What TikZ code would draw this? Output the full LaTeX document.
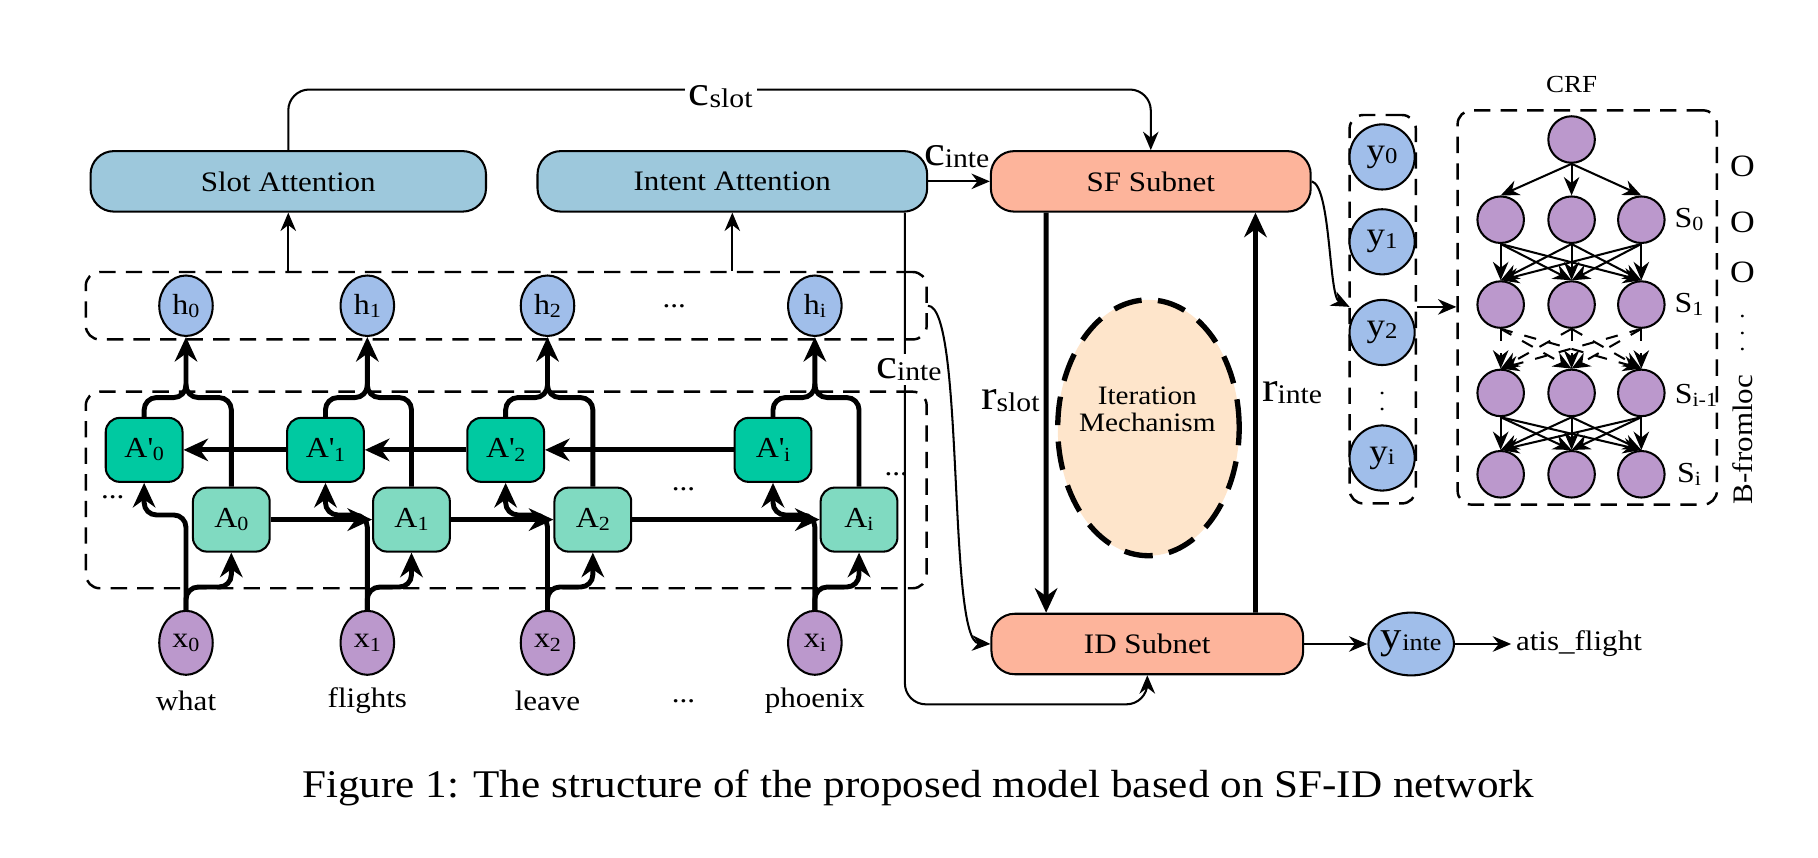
\documentclass[tikz,border=0pt]{standalone}
\usepackage{fontspec}
\setmainfont{Liberation Serif}[FakeStretch=1.1]
\usetikzlibrary{shapes.geometric,arrows.meta}

\definecolor{attblue}{RGB}{157,200,220}
\definecolor{subred}{RGB}{253,180,155}
\definecolor{hblue}{RGB}{160,190,234}
\definecolor{xpurple}{RGB}{187,152,204}
\definecolor{bwdgreen}{RGB}{0,201,161}
\definecolor{fwdgreen}{RGB}{128,218,193}
\definecolor{iterpeach}{RGB}{254,229,203}

\newcommand{\fsz}[1]{\fontsize{#1}{#1}\selectfont}
\newcommand{\vsub}[2]{{\fsz{10.4}#1}\raisebox{-0.5pt}{\fsz{6.6}#2}}
\newcommand{\nsub}[2]{{\fsz{7.1}#1}\raisebox{-0.8pt}{\fsz{4.9}#2}}
\newcommand{\psub}[2]{{\fsz{7.1}#1\textquotesingle}\raisebox{-0.8pt}{\fsz{4.9}#2}}
\newcommand{\ysub}[2]{{\fsz{8.2}#1}\raisebox{-0.6pt}{\fsz{5.5}#2}}

\tikzset{
  att/.style={draw, line width=0.5pt, fill=attblue, rounded corners=0.2cm, minimum height=0.52cm, font=\fsz{6.9}},
  subnet/.style={att, fill=subred},
  hnode/.style={ellipse, draw, line width=0.5pt, fill=hblue, inner sep=0pt, minimum width=0.46cm, minimum height=0.52cm},
  xnode/.style={hnode, fill=xpurple, minimum height=0.55cm},
  bwd/.style={draw, line width=0.5pt, fill=bwdgreen, rounded corners=0.12cm, minimum width=0.66cm, minimum height=0.55cm, inner sep=0pt},
  fwd/.style={bwd, fill=fwdgreen},
  ynode/.style={circle, draw, line width=0.5pt, fill=hblue, minimum size=0.56cm, inner sep=0pt},
  crfnode/.style={circle, draw, line width=0.5pt, fill=xpurple, minimum size=0.40cm, inner sep=0pt},
  iter/.style={ellipse, draw, line width=1.3pt, dash pattern=on 7pt off 4pt, fill=iterpeach, minimum width=1.56cm, minimum height=2.2cm},
  dashbox/.style={draw, line width=0.6pt, dash pattern=on 4pt off 2.5pt, rounded corners=0.12cm, inner sep=0pt},
  con/.style={line width=0.5pt},
  lstm/.style={line width=1.2pt, >={Stealth[length=6pt,width=5.5pt]}},
  lab/.style={inner sep=1pt},
  word/.style={font=\fsz{6.9}},
  vdot/.style={font=\fsz{5.5}, inner sep=0pt},
}

\begin{document}
\begin{tikzpicture}[x=0.01cm,y=-0.01cm,>={Stealth[length=4.5pt,width=3.8pt]}]
\useasboundingbox (0,0) rectangle (1564,738);

% dashed groups
\node[dashbox, minimum width=7.23cm, minimum height=0.58cm] (hbox) at (435.5,263) {};
\node[dashbox, minimum width=7.23cm, minimum height=1.69cm] (abox) at (435.5,421.5) {};
\node[dashbox, minimum width=0.57cm, minimum height=3.34cm] (ybox) at (1189.5,266) {};
\node[dashbox, minimum width=2.23cm, minimum height=3.39cm] (crf) at (1365.5,264.5) {};

% attention and subnets
\node[att, minimum width=3.40cm] (slot) at (248,156) {Slot Attention};
\node[att, minimum width=3.35cm] (intent) at (630,156) {Intent Attention};
\node[subnet, minimum width=2.75cm] (sf) at (990,156) {SF Subnet};
\node[subnet, minimum width=2.68cm] (id) at (987,554) {ID Subnet};

% BiLSTM columns
\foreach \k/\ap/\c/\a/\w in {0/124/160/199/what, 1/280/316/354/flights, 2/435/471/510/leave, i/665/701/739/phoenix}{
  \node[xnode] (x\k) at (\c,553) {\nsub{x}{\k}};
  \node[word] (w\k) at (\c,603) {\w};
  \node[hnode] (h\k) at (\c,263) {\nsub{h}{\k}};
  \node[bwd] (Ap\k) at (\ap,387) {\psub{A}{\k}};
  \node[fwd] (A\k) at (\a,447) {\nsub{A}{\k}};
  \draw[lstm,->,rounded corners=3pt] (x\k.north) -- (\c,443) -- (\ap,443) -- (Ap\k.south);
  \draw[lstm,->,rounded corners=3pt] (x\k.north) -- (\c,505) -- (\a,505) -- (A\k.south);
  \draw[lstm,->,rounded corners=3pt] (Ap\k.north) -- (\ap,342) -- (\c,342) -- (h\k.south);
  \draw[lstm,rounded corners=3pt] (A\k.north) -- (\a,342) -- (\c,342) -- (\c,330);
}
\draw[lstm,->] (A0) -- (A1);
\draw[lstm,->] (A1) -- (A2);
\draw[lstm,->] (A2) -- (Ai);
\draw[lstm,->] (Api) -- (Ap2);
\draw[lstm,->] (Ap2) -- (Ap1);
\draw[lstm,->] (Ap1) -- (Ap0);

\node[word] (dotsl) at (97,428) {...};
\node[word] (dotsm) at (588,421) {...};
\node[word] (dotsr) at (771,408) {...};
\node[word] (dotsh) at (580,263) {...};
\node[word] (dotsw) at (588,603) {...};

% h layer to attention
\draw[con,->] (hbox.north -| slot.south) -- (slot.south);
\draw[con,->] (hbox.north -| intent.south) -- (intent.south);

% context vectors
\coordinate (ctop) at (990,77);
\draw[con,->,rounded corners=0.18cm] (slot.north) |- (ctop) -- (sf.north);
\node[lab, fill=white] (cslot) at (620,83) {\vsub{c}{slot}};
\draw[con,->] (intent) -- (sf);
\node[lab] (cinte) at (823,135) {\vsub{c}{inte}};
\draw[con,->,rounded corners=0.18cm] ([xshift=-0.2cm]intent.south east) |- ([yshift=-0.25cm]id.south) -- (id.south);
\node[lab, fill=white] (cinteb) at (782,318) {\vsub{c}{inte}};
\draw[con,->] (hbox.east) .. controls (830,263) and (815,552) .. (id.west);

% iteration mechanism
\node[iter] (iter) at (988,368) {};
\node[font=\fsz{6.5}, align=center] (itertext) at (987,352) {Iteration\\Mechanism};
\draw[lstm,->] ([xshift=-0.9cm]sf.south) -- node[lab, left, pos=0.47] (rslot) {\vsub{r}{slot}} ([xshift=-0.87cm]id.north);
\draw[lstm,->] ([xshift=0.93cm]id.north) -- node[lab, right, pos=0.55] (rinte) {\vsub{r}{inte}} ([xshift=0.9cm]sf.south);

% intent output
\node[hnode, minimum width=0.64cm, minimum height=0.54cm] (yinte) at (1214,554) {{\fsz{9.5}y}\raisebox{-0.5pt}{\fsz{5.8}inte}};
\node[word, anchor=west, inner sep=1pt] (atis) at (1300,554) {atis\_flight};
\draw[con,->] (id) -- (yinte);
\draw[con,->] (yinte) -- (atis);

% slot outputs
\node[ynode] (y0) at (1189,135) {\ysub{y}{0}};
\node[ynode] (y1) at (1189,208) {\ysub{y}{1}};
\node[ynode] (y2) at (1189,286) {\ysub{y}{2}};
\node[vdot] (ydots) at (1189,342) {$\vdots$};
\node[ynode] (yi) at (1189,394) {\ysub{y}{i}};
\coordinate (yin) at (1161,264);
\draw[con,->] (sf.east) .. controls (1145,160) and (1143,255) .. (yin);
\draw[con,->] (ybox.east |- yin) -- (crf.west |- yin);

% CRF
\node[font=\fsz{6}] (crftitle) at (1352,73) {CRF};
\node[crfnode] (top) at (1352,120) {};
\foreach \r/\yy in {0/189,1/262,2/338,3/408}
  \foreach \j/\xx in {1/1291,2/1352,3/1412}
    \node[crfnode] (s\r\j) at (\xx,\yy) {};
\foreach \j in {1,2,3} \draw[con,->] (top.south) -- (s0\j.north);
\foreach \j in {1,2,3}
  \foreach \m in {1,2,3}{
    \draw[con,->] (s0\j.south) -- (s1\m.north);
    \draw[con,->,dashed] (s1\j.south) -- (s2\m.north);
    \draw[con,->] (s2\j.south) -- (s3\m.north);
  }
\node[lab] (sl0) at (1453,189) {\nsub{S}{0}};
\node[lab] (sl1) at (1453,262) {\nsub{S}{1}};
\node[lab] (sl2) at (1459,340) {\nsub{S}{i-1}};
\node[lab] (sl3) at (1453,408) {\nsub{S}{i}};
\node[font=\fsz{7.6}] (o0) at (1499,143) {O};
\node[font=\fsz{7.6}] (o1) at (1499,191) {O};
\node[font=\fsz{7.6}] (o2) at (1499,234) {O};
\node[vdot] (odots) at (1499,276) {$\vdots$};
\node[font=\fsz{6.9}, rotate=90] (bloc) at (1499,378) {B-fromloc};

\node[font=\fsz{9.6}] (caption) at (790,678) {Figure 1: The structure of the proposed model based on SF-ID network};
\end{tikzpicture}
\end{document}
